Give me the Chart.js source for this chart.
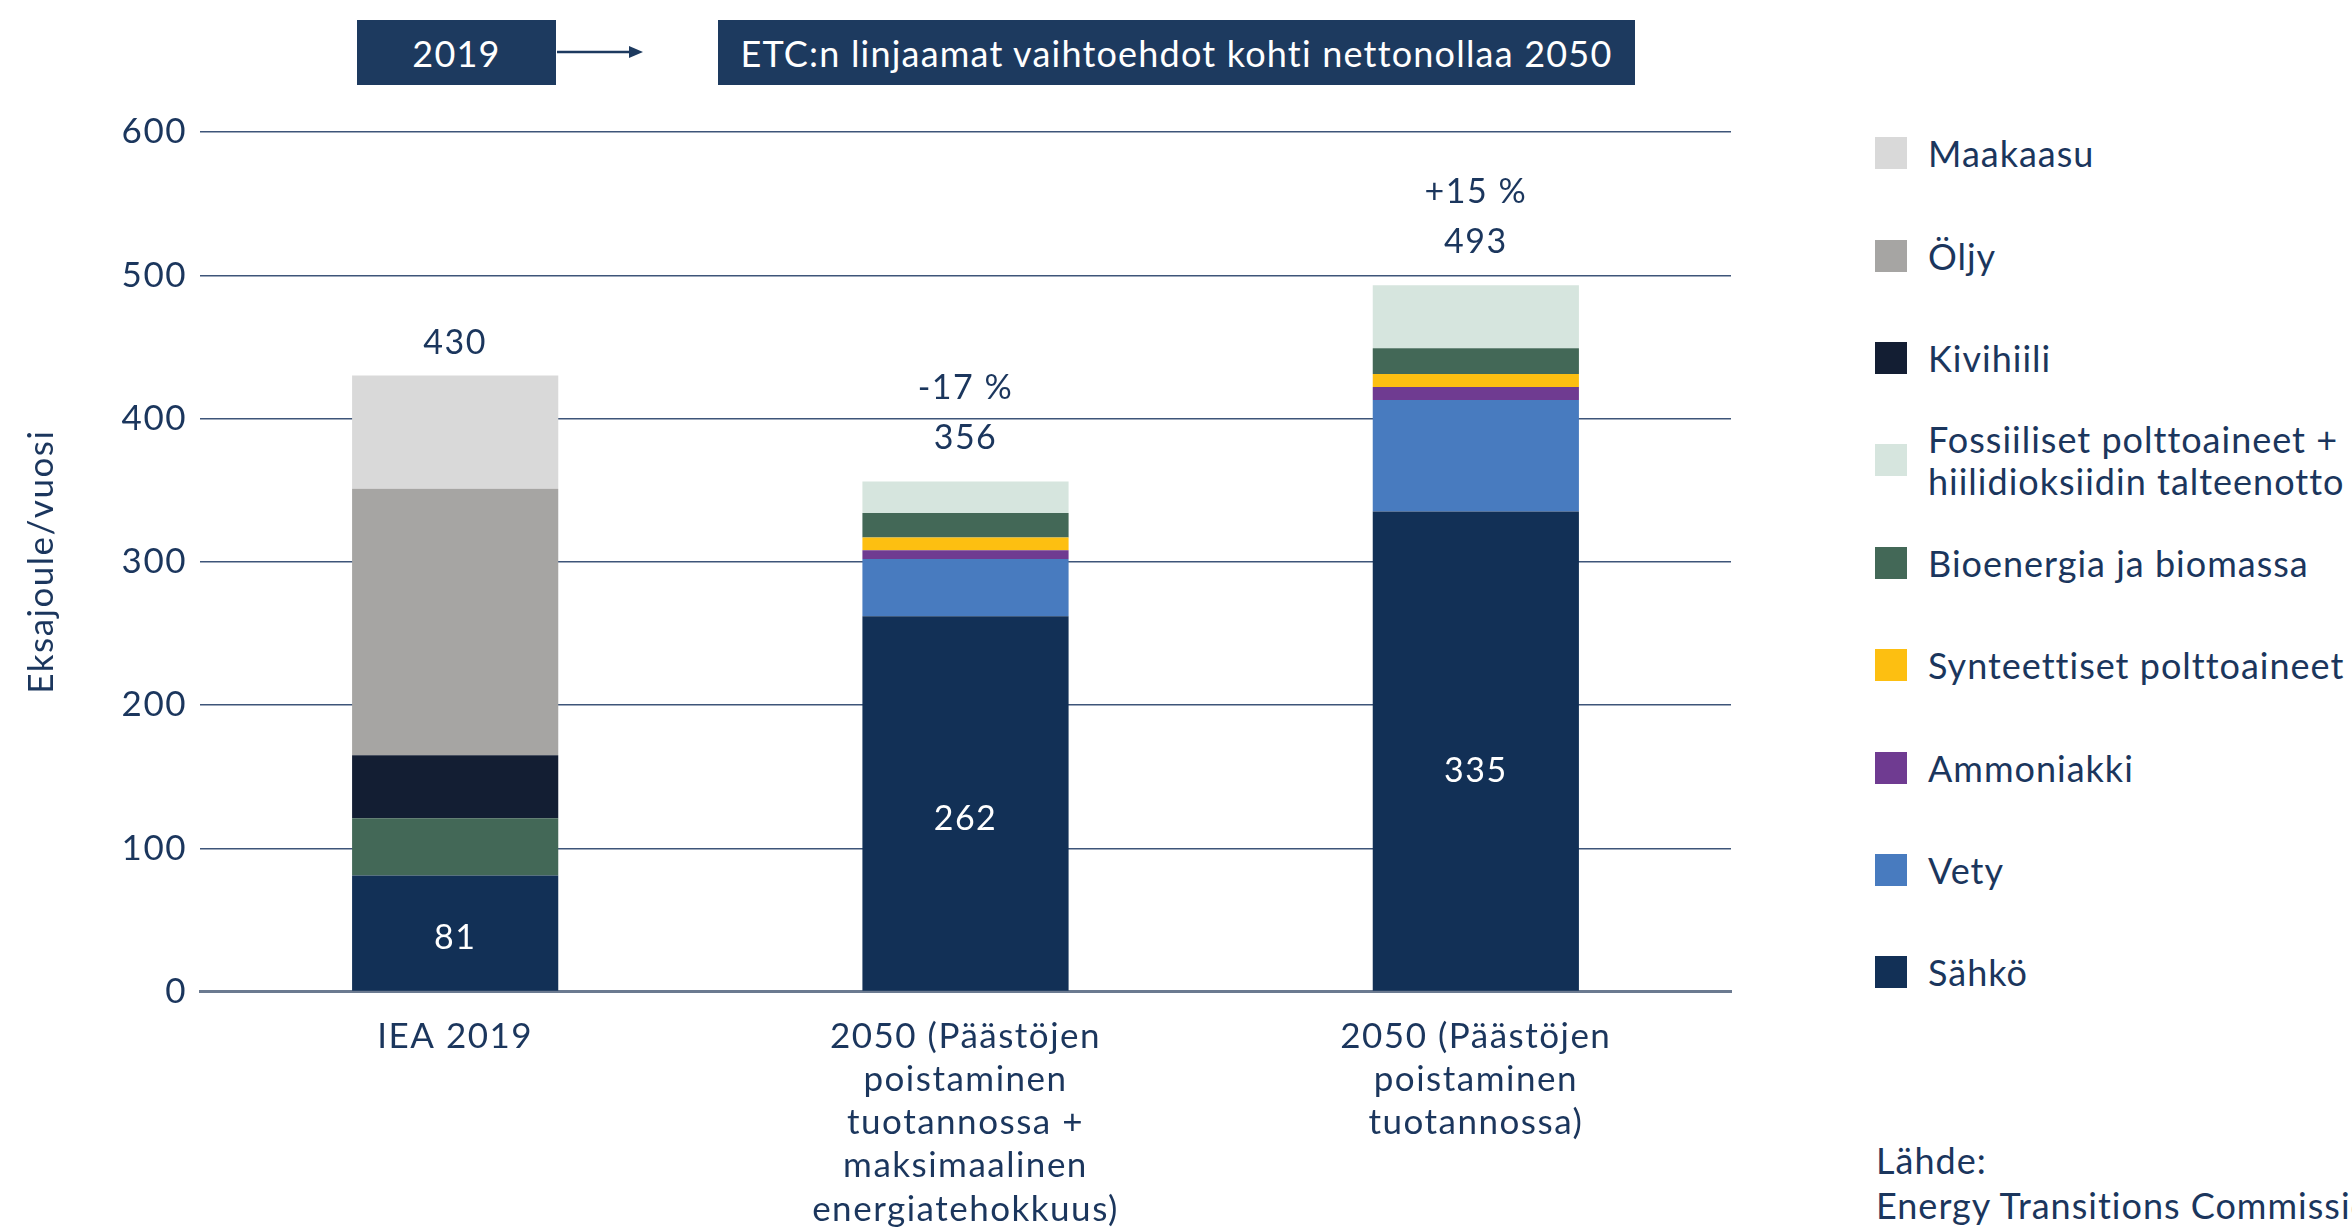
<!DOCTYPE html>
<html lang="fi">
<head>
<meta charset="utf-8">
<title>Energian loppukäyttö 2019 ja 2050</title>
<script src="https://cdn.jsdelivr.net/npm/chart.js@4.4.1/dist/chart.umd.min.js"></script>
<style>
  html, body { margin: 0; padding: 0; background: #fff; }
  body {
    width: 2352px; height: 1227px; position: relative; overflow: hidden;
    font-family: Lato, 'Open Sans', sans-serif; color: #1b365d;
  }
  #wrap { position: absolute; left: 0; top: 0; width: 1760px; height: 1227px; }
  .box {
    position: absolute; top: 20px; height: 65px; background: #1d3a5f; color: #fff;
    font-size: 36px; letter-spacing: 1.2px; display: flex; align-items: center; justify-content: center;
  }
  #arrow { position: absolute; left: 557px; top: 40px; }
  #legend { position: absolute; left: 1875px; top: 102px; }
  .row { height: 102.4px; display: flex; align-items: center; white-space: pre-line; font-size: 36px; letter-spacing: 1px; line-height: 42px; }
  .sw { width: 32px; height: 32px; margin-right: 21px; flex: none; }
  #source { position: absolute; left: 1876px; top: 1138px; font-size: 36px; letter-spacing: 1px; line-height: 45px; white-space: nowrap; }
</style>
</head>
<body>
<div class="box" style="left:357px;width:199px;">2019</div>
<svg id="arrow" width="90" height="24">
  <line x1="0" y1="12" x2="76" y2="12" stroke="#1d3a5f" stroke-width="2.5"/>
  <polygon points="72,6 86,12 72,18" fill="#1d3a5f"/>
</svg>
<div class="box" style="left:718px;width:917px;">ETC:n linjaamat vaihtoehdot kohti nettonollaa 2050</div>

<div id="wrap"><canvas id="chart" width="1760" height="1227"></canvas></div>
<div id="legend"></div>
<div id="source">Lähde:<br>Energy Transitions Commission</div>

<script>
// ═══════════ DATA ═══════════
const categories = [
  ['IEA 2019'],
  ['2050 (Päästöjen', 'poistaminen', 'tuotannossa +', 'maksimaalinen', 'energiatehokkuus)'],
  ['2050 (Päästöjen', 'poistaminen', 'tuotannossa)']
];

// stacked bottom -> top (EJ/vuosi)
const sahko        = [81, 262, 335];
const vety         = [0, 40, 78];
const ammoniakki   = [0, 6, 9];
const synteettiset = [0, 9, 9];
const bioenergia   = [40, 17, 18];
const fossiiliCCS  = [0, 22, 44];
const kivihiili    = [44, 0, 0];
const oljy         = [186, 0, 0];
const maakaasu     = [79, 0, 0];

const changeLabels = ['', '-17 %', '+15 %'];
const yTicks = [0, 100, 200, 300, 400, 500, 600];

const NAVY = '#1b365d';
const FONT = "Lato, 'Open Sans', sans-serif";

const series = [
  { label: 'Sähkö', data: sahko, color: '#123056' },
  { label: 'Vety', data: vety, color: '#487bbf' },
  { label: 'Ammoniakki', data: ammoniakki, color: '#6f3b91' },
  { label: 'Synteettiset polttoaineet', data: synteettiset, color: '#fdbf11' },
  { label: 'Bioenergia ja biomassa', data: bioenergia, color: '#436857' },
  { label: 'Fossiiliset polttoaineet +\nhiilidioksiidin talteenotto', data: fossiiliCCS, color: '#d6e5de' },
  { label: 'Kivihiili', data: kivihiili, color: '#131e33' },
  { label: 'Öljy', data: oljy, color: '#a6a5a3' },
  { label: 'Maakaasu', data: maakaasu, color: '#d9d9d9' }
];

// ═══════════ LEGEND ═══════════
document.getElementById('legend').innerHTML = series.slice().reverse().map(s => `
  <div class="row"><div class="sw" style="background:${s.color}"></div><div>${s.label}</div></div>
`).join('');

// ═══════════ PLUGINS ═══════════
// wider letter spacing for all canvas text
const spacing = {
  id: 'spacing',
  beforeDraw(chart) { chart.ctx.letterSpacing = '1.5px'; }
};

const barLabels = {
  id: 'barLabels',
  afterDatasetsDraw(chart) {
    const { ctx, scales: { x, y } } = chart;
    ctx.save();
    ctx.textAlign = 'center';
    ctx.textBaseline = 'middle';
    ctx.font = `34px ${FONT}`;
    categories.forEach((c, i) => {
      const total = series.reduce((s, d) => s + d.data[i], 0);
      const cx = x.getPixelForValue(i);
      const top = y.getPixelForValue(total);
      const gap = changeLabels[i] ? 43 : 32;
      ctx.fillStyle = NAVY;
      ctx.fillText(String(total), cx, top - gap);
      if (changeLabels[i]) ctx.fillText(changeLabels[i], cx, top - gap - 50);
      ctx.fillStyle = '#ffffff';
      ctx.fillText(String(sahko[i]), cx, y.getPixelForValue(sahko[i] * 0.46));
    });
    // y axis title
    ctx.fillStyle = NAVY;
    ctx.font = `35px ${FONT}`;
    ctx.translate(42, y.getPixelForValue(300));
    ctx.rotate(-Math.PI / 2);
    ctx.fillText('Eksajoule/vuosi', 0, 0);
    ctx.restore();
  }
};

// ═══════════ CHART ═══════════
new Chart(document.getElementById('chart'), {
  type: 'bar',
  data: {
    labels: categories,
    datasets: series.map(s => ({
      label: s.label,
      data: s.data,
      backgroundColor: s.color,
      borderWidth: 0,
      barPercentage: 0.404,
      categoryPercentage: 1.0
    }))
  },
  options: {
    responsive: false,
    animation: false,
    layout: { padding: { top: 132, right: 29, left: 0, bottom: 0 } },
    plugins: { legend: { display: false }, tooltip: { enabled: false } },
    scales: {
      x: {
        stacked: true,
        grid: { display: false, drawTicks: false },
        border: { display: true, color: '#6b7a90', width: 3 },
        ticks: {
          color: NAVY, autoSkip: false, maxRotation: 0, padding: 24,
          font: { family: FONT, size: 35, lineHeight: 1.23 }
        },
        afterFit: s => { s.height = 235.5; }
      },
      y: {
        stacked: true, min: 0, max: 600,
        afterBuildTicks: s => { s.ticks = yTicks.map(v => ({ value: v })); },
        grid: { color: '#3e5579', lineWidth: 1.5, drawTicks: false },
        border: { display: false },
        ticks: { color: NAVY, padding: 13, font: { family: FONT, size: 35 } },
        afterFit: s => { s.width = 200; }
      }
    }
  },
  plugins: [spacing, barLabels]
});
</script>
</body>
</html>
